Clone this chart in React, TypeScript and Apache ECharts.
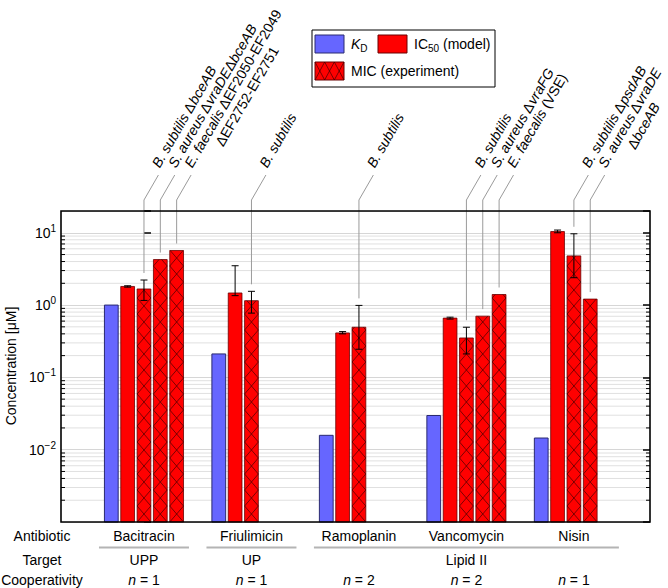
import React, { useEffect, useRef } from 'react';
import * as echarts from 'echarts';

// ---------- data ----------
const categories = ['Bacitracin', 'Friulimicin', 'Ramoplanin', 'Vancomycin', 'Nisin'];
const targets = ['UPP', 'UP', 'Lipid II'];
const targetStart = [0, 1, 2];
const targetEnd = [0, 1, 4];
const cooperativity = [1, 1, 2, 2, 1];

const kdValues = [1.0, 0.211, 0.0158, 0.0297, 0.0145];
const ic50Values = [1.81, 1.47, 0.412, 0.66, 10.4];
const ic50Low = [1.77, 1.35, 0.4, 0.64, 10.0];
const ic50High = [1.85, 3.5, 0.43, 0.68, 10.9];

const micGroup = [0, 0, 0, 1, 2, 3, 3, 3, 4, 4];
const micSlot = [2, 3, 4, 2, 2, 2, 3, 4, 2, 3];
const micValues = [1.67, 4.26, 5.68, 1.15, 0.494, 0.351, 0.703, 1.4, 4.79, 1.21];
const micLow: (number | null)[] = [1.16, null, null, 0.774, 0.245, 0.211, null, null, 2.39, null];
const micHigh: (number | null)[] = [2.22, null, null, 1.55, 0.99, 0.494, null, null, 9.68, null];
const micLabels: string[][] = [
  ['{i|B. subtilis} Δ{i|bceAB}'],
  ['{i|S. aureus} Δ{i|vraDE}Δ{i|bceAB}'],
  ['{i|E. faecalis} ΔEF2050-EF2049', 'ΔEF2752-EF2751'],
  ['{i|B. subtilis}'],
  ['{i|B. subtilis}'],
  ['{i|B. subtilis}'],
  ['{i|S. aureus} Δ{i|vraFG}'],
  ['{i|E. faecalis} (VSE)'],
  ['{i|B. subtilis} Δ{i|psdAB}'],
  ['{i|S. aureus} Δ{i|vraDE}', 'Δ{i|bceAB}'],
];

// ---------- layout / style ----------
const FONT = '"Liberation Sans", Arial, Helvetica, sans-serif';
const FS = 14;
const SLOT = 0.152;
const BAR_W = 0.128;
const X_MIN = -0.772;
const X_MAX = 4.708;
const Y_MIN = 0.001;
const Y_MAX = 20;
const BLUE = '#6666ff';
const BLUE_EDGE = '#2a2a70';
const RED = '#ff0000';
const RED_EDGE = '#6a0000';
const HATCH = 'rgba(50,0,0,0.8)';
const LEADER = '#9a9a9a';
const ANG = Math.PI / 3;
const UX = Math.cos(ANG);
const UY = -Math.sin(ANG);
const NX = Math.sin(ANG);
const NY = Math.cos(ANG);

const minorValues: number[] = [];
for (let e = -3; e <= 1; e++) {
  for (let m = 2; m <= 9; m++) {
    const v = m * Math.pow(10, e);
    if (v < Y_MAX) minorValues.push(v);
  }
}

let measureCtx: CanvasRenderingContext2D | null = null;
function measure(rich: string): number {
  if (!measureCtx) measureCtx = document.createElement('canvas').getContext('2d');
  const ctx = measureCtx!;
  let w = 0;
  const re = /\{i\|([^}]*)\}|([^{]+)/g;
  let m: RegExpExecArray | null;
  while ((m = re.exec(rich))) {
    if (m[1] !== undefined) {
      ctx.font = `italic ${FS}px ${FONT}`;
      w += ctx.measureText(m[1]).width;
    } else {
      ctx.font = `${FS}px ${FONT}`;
      w += ctx.measureText(m[2]).width;
    }
  }
  return w;
}

function hatch(x0: number, yt: number, w: number, yb: number, cw: number, ch: number) {
  const out: any[] = [];
  const cols = Math.max(1, Math.round(w / cw));
  const cwx = w / cols;
  for (let c = 0; c < cols; c++) {
    const xa = x0 + c * cwx;
    const xb = xa + cwx;
    for (let yk = yb; yk > yt + 0.01; yk -= ch) {
      let t = 1;
      if (yk - ch < yt) t = (yk - yt) / ch;
      out.push({ type: 'line', shape: { x1: xa, y1: yk, x2: xa + t * cwx, y2: yk - t * ch }, style: { stroke: HATCH, lineWidth: 0.8 } });
      out.push({ type: 'line', shape: { x1: xb, y1: yk, x2: xb - t * cwx, y2: yk - t * ch }, style: { stroke: HATCH, lineWidth: 0.8 } });
    }
  }
  return out;
}

function errorBar(x: number, yh: number, yl: number) {
  const st = { stroke: '#000', lineWidth: 1 };
  return [
    { type: 'line', shape: { x1: x, y1: yh, x2: x, y2: yl }, style: st },
    { type: 'line', shape: { x1: x - 3.5, y1: yh, x2: x + 3.5, y2: yh }, style: st },
    { type: 'line', shape: { x1: x - 3.5, y1: yl, x2: x + 3.5, y2: yl }, style: st },
  ];
}

const italicRich = { i: { fontStyle: 'italic', fontSize: FS, fontFamily: FONT, fill: '#000' } };

function textEl(x: number, y: number, text: string, align = 'center', extra: any = {}) {
  return {
    type: 'text',
    x,
    y,
    style: { text, rich: italicRich, fontSize: FS, fontFamily: FONT, fill: '#000', align, verticalAlign: 'middle', ...extra },
  };
}

function barBox(api: any, x: number, v: number) {
  const p = api.coord([x, v]);
  const xl = api.coord([x - BAR_W / 2, v])[0];
  const xr = api.coord([x + BAR_W / 2, v])[0];
  return { p, xl, w: xr - xl };
}

export default function App() {
  const ref = useRef<HTMLDivElement>(null);
  useEffect(() => {
    const chart = echarts.init(ref.current!, null, { renderer: 'svg' });

    const logAxis = (pos: 'left' | 'right', labels: boolean) => ({
      type: 'log',
      logBase: 10,
      min: Y_MIN,
      max: Y_MAX,
      position: pos,
      axisLine: { show: false },
      axisTick: { show: true, inside: true, length: 7, lineStyle: { color: '#000', width: 1.5 } },
      splitLine: { show: labels, lineStyle: { color: '#d6d6d6', width: 1 } },
      axisLabel: {
        show: labels,
        margin: 5,
        color: '#000',
        formatter: (value: number) => {
          const l = Math.log10(value);
          const e = Math.round(l);
          if (Math.abs(l - e) > 1e-6 || e < -2) return '';
          return `{b|10}{s|${e < 0 ? '−' + -e : e}}`;
        },
        rich: {
          b: { fontSize: FS, fontFamily: FONT, color: '#000' },
          s: { fontSize: 10, fontFamily: FONT, color: '#000', padding: [0, 0, 9, 0] },
        },
      },
    });

    const option: any = {
      animation: false,
      textStyle: { fontFamily: FONT },
      grid: { left: 61, right: 18, top: 211, bottom: 66 },
      xAxis: { type: 'value', min: X_MIN, max: X_MAX, show: false },
      yAxis: [logAxis('left', true), logAxis('right', false)],
      series: [
        {
          type: 'custom',
          name: 'minor',
          z: 1,
          silent: true,
          clip: false,
          data: minorValues.map((v) => [X_MIN, v]),
          renderItem: (params: any, api: any) => {
            const cs = params.coordSys;
            const y = api.coord([X_MIN, api.value(1)])[1];
            return {
              type: 'group',
              children: [
                { type: 'line', shape: { x1: cs.x, y1: y, x2: cs.x + cs.width, y2: y }, style: { stroke: '#e0e0e0', lineWidth: 1 } },
                { type: 'line', shape: { x1: cs.x, y1: y, x2: cs.x + 4, y2: y }, style: { stroke: '#000', lineWidth: 1 } },
                { type: 'line', shape: { x1: cs.x + cs.width - 4, y1: y, x2: cs.x + cs.width, y2: y }, style: { stroke: '#000', lineWidth: 1 } },
              ],
            };
          },
        },
        {
          type: 'custom',
          name: 'KD',
          z: 2,
          clip: false,
          silent: true,
          data: kdValues.map((v, i) => [i - 2 * SLOT, v]),
          renderItem: (params: any, api: any) => {
            const cs = params.coordSys;
            const yb = cs.y + cs.height;
            const { p, xl, w } = barBox(api, api.value(0), api.value(1));
            return { type: 'rect', shape: { x: xl, y: p[1], width: w, height: yb - p[1] }, style: { fill: BLUE, stroke: BLUE_EDGE, lineWidth: 1 } };
          },
        },
        {
          type: 'custom',
          name: 'IC50',
          z: 2,
          clip: false,
          silent: true,
          data: ic50Values.map((v, i) => [i - SLOT, v]),
          renderItem: (params: any, api: any) => {
            const i = params.dataIndex;
            const cs = params.coordSys;
            const yb = cs.y + cs.height;
            const x = api.value(0);
            const { p, xl, w } = barBox(api, x, api.value(1));
            const yh = api.coord([x, ic50High[i]])[1];
            const yl = api.coord([x, ic50Low[i]])[1];
            return {
              type: 'group',
              children: [
                { type: 'rect', shape: { x: xl, y: p[1], width: w, height: yb - p[1] }, style: { fill: RED, stroke: RED_EDGE, lineWidth: 0.8 } },
                ...errorBar(p[0], yh, yl),
              ],
            };
          },
        },
        {
          type: 'custom',
          name: 'MIC',
          z: 2,
          clip: false,
          silent: true,
          data: micValues.map((v, k) => [micGroup[k] + (micSlot[k] - 2) * SLOT, v]),
          renderItem: (params: any, api: any) => {
            const k = params.dataIndex;
            const cs = params.coordSys;
            const yb = cs.y + cs.height;
            const x = api.value(0);
            const { p, xl, w } = barBox(api, x, api.value(1));
            const children: any[] = [
              { type: 'rect', shape: { x: xl, y: p[1], width: w, height: yb - p[1] }, style: { fill: RED, stroke: RED_EDGE, lineWidth: 0.8 } },
              ...hatch(xl, p[1], w, yb, w, 16),
            ];
            let topY = p[1];
            const hi = micHigh[k];
            const lo = micLow[k];
            if (hi != null && lo != null) {
              const yh = api.coord([x, hi])[1];
              const yl = api.coord([x, lo])[1];
              children.push(...errorBar(p[0], yh, yl));
              topY = yh;
            }
            const yTurn = cs.y - 11;
            const yEnd = cs.y - 36;
            const xEnd = p[0] + 25 / Math.tan(ANG);
            children.push({
              type: 'polyline',
              shape: { points: [[p[0], topY - 7], [p[0], yTurn], [xEnd, yEnd]] },
              style: { stroke: LEADER, lineWidth: 1, fill: 'none' },
            });
            const ax = xEnd + 6 * UX;
            const ay = yEnd + 6 * UY;
            const lines = micLabels[k];
            const w1 = measure(lines[0]);
            lines.forEach((ln, li) => {
              let lx = ax;
              let ly = ay;
              if (li > 0) {
                const off = (w1 - measure(ln)) / 2;
                lx = ax + off * UX + 16 * li * NX;
                ly = ay + off * UY + 16 * li * NY;
              }
              children.push({
                type: 'text',
                x: lx,
                y: ly,
                rotation: ANG,
                style: { text: ln, rich: italicRich, fontSize: FS, fontFamily: FONT, fill: '#000', align: 'left', verticalAlign: 'bottom' },
              });
            });
            return { type: 'group', children };
          },
        },
        {
          type: 'custom',
          name: 'frame',
          z: 5,
          silent: true,
          clip: false,
          data: [[X_MIN, 1]],
          renderItem: (params: any) => {
            const cs = params.coordSys;
            return { type: 'rect', shape: { x: cs.x, y: cs.y, width: cs.width, height: cs.height }, style: { fill: 'none', stroke: '#000', lineWidth: 1.6 } };
          },
        },
        {
          type: 'custom',
          name: 'table',
          z: 2,
          silent: true,
          clip: false,
          data: categories.map((c, i) => [i, 1]),
          renderItem: (params: any, api: any) => {
            const i = params.dataIndex;
            const cs = params.coordSys;
            const yb = cs.y + cs.height;
            const x = api.coord([api.value(0), 1])[0];
            return {
              type: 'group',
              children: [textEl(x, yb + 13.5, categories[i]), textEl(x, yb + 58, `{i|n} = ${cooperativity[i]}`)],
            };
          },
        },
        {
          type: 'custom',
          name: 'targets',
          z: 2,
          silent: true,
          clip: false,
          data: targets.map((t, k) => [targetStart[k], 1]),
          renderItem: (params: any, api: any) => {
            const k = params.dataIndex;
            const cs = params.coordSys;
            const yb = cs.y + cs.height;
            const xs = api.coord([targetStart[k], 1])[0];
            const xe = api.coord([targetEnd[k], 1])[0];
            return {
              type: 'group',
              children: [
                { type: 'line', shape: { x1: xs - 45, y1: yb + 25.5, x2: xe + 45, y2: yb + 25.5 }, style: { stroke: '#b4b4b4', lineWidth: 2 } },
                textEl((xs + xe) / 2, yb + 37.5, targets[k]),
              ],
            };
          },
        },
      ],
      graphic: [
        textEl(42, 535.5, 'Antibiotic'),
        textEl(42, 559.5, 'Target'),
        textEl(42, 580, 'Cooperativity'),
        { ...textEl(11, 366, 'Concentration [μM]'), rotation: Math.PI / 2 },
        {
          type: 'group',
          children: [
            { type: 'rect', shape: { x: 312, y: 30, width: 183, height: 57 }, style: { fill: '#fff', stroke: '#000', lineWidth: 1 } },
            { type: 'rect', shape: { x: 315, y: 35, width: 29, height: 18 }, style: { fill: BLUE, stroke: BLUE_EDGE, lineWidth: 1 } },
            { type: 'rect', shape: { x: 378, y: 35, width: 29, height: 18 }, style: { fill: RED, stroke: RED_EDGE, lineWidth: 1 } },
            { type: 'rect', shape: { x: 315, y: 62, width: 29, height: 18 }, style: { fill: RED, stroke: RED_EDGE, lineWidth: 1 } },
            ...hatch(315, 62, 29, 80, 10, 18),
            textEl(351, 44, '{i|K}{sub|D}', 'left', {
              rich: { i: { fontStyle: 'italic', fontSize: FS, fontFamily: FONT, fill: '#000' }, sub: { fontSize: 10, fontFamily: FONT, fill: '#000', padding: [8, 0, 0, 0] } },
            }),
            textEl(414, 44, 'IC{sub|50} (model)', 'left', {
              rich: { sub: { fontSize: 10, fontFamily: FONT, fill: '#000', padding: [8, 0, 0, 0] } },
            }),
            textEl(351, 71, 'MIC (experiment)', 'left'),
          ],
        },
      ],
    };

    chart.setOption(option);
    return () => chart.dispose();
  }, []);
  return <div ref={ref} style={{ position: 'fixed', left: 0, top: 0, width: 668, height: 588, background: '#fff' }} />;
}
